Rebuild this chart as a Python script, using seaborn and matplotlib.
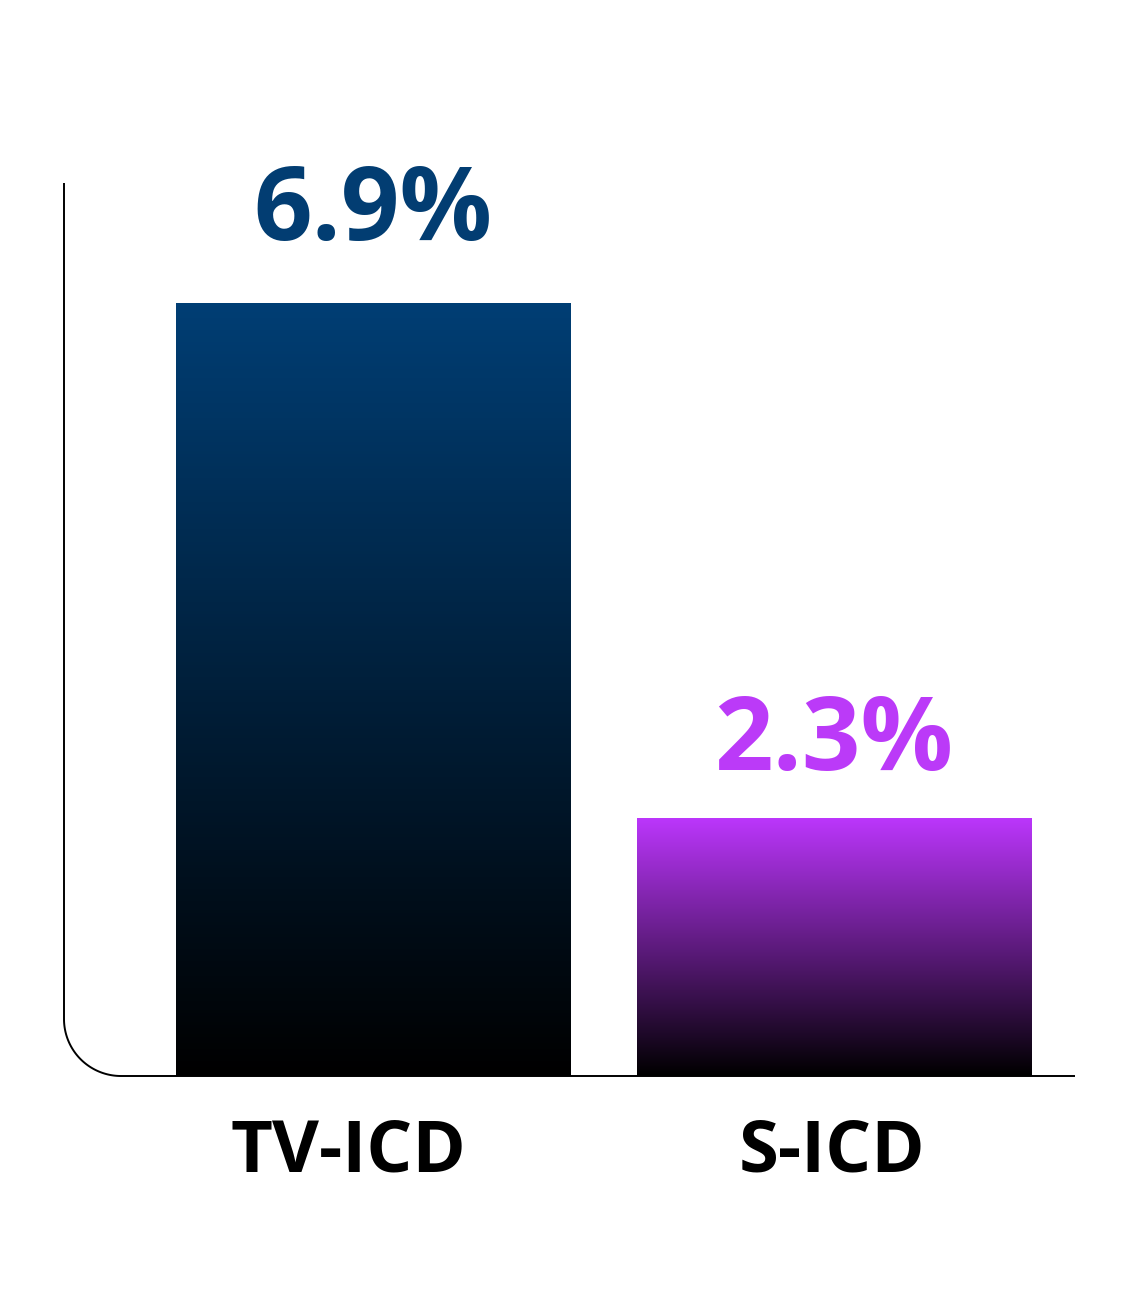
import numpy as np
import matplotlib
matplotlib.use("Agg")
import matplotlib.pyplot as plt
import seaborn as sns
from matplotlib.colors import LinearSegmentedColormap
from matplotlib.transforms import offset_copy

# --------------- data -----------------
categories = ["TV-ICD", "S-ICD"]
values = [6.9, 2.3]
value_labels = ["6.9%", "2.3%"]
top_colors = ["#003e74", "#bb36fb"]
text_colors = ["#023d72", "#bb3af8"]

sns.set_theme(style="white")
plt.rcParams["font.family"] = ["Open Sans", "DejaVu Sans"]

fig = plt.figure(figsize=(11.4, 13.01), dpi=100)
W, H = 1140, 1301
# axes box in pixels: x 64..1075, y(top) 180..1076
AX_TOP, AX_BOT = 180, 1076
ax = fig.add_axes([64 / W, 1 - AX_BOT / H, (1075 - 64) / W, (AX_BOT - AX_TOP) / H])

sns.barplot(x=categories, y=values, width=0.855, color="#003e74",
            edgecolor="none", linewidth=0, ax=ax)

# gradient fill: top colour -> black
for patch, c in zip(ax.patches, top_colors):
    x0, y0 = patch.get_x(), patch.get_y()
    w, h = patch.get_width(), patch.get_height()
    cmap = LinearSegmentedColormap.from_list("g", ["#000000", c])
    grad = np.linspace(0, 1, 256).reshape(-1, 1)
    im = ax.imshow(grad, cmap=cmap, origin="lower", aspect="auto",
                   extent=[x0, x0 + w, y0, y0 + h], zorder=2)
    im.set_clip_path(patch)
    patch.set_facecolor("none")
ax.set_xlim(-0.6703, 1.5228)
ax.set_ylim(0, 8)

# value labels above bars (offsets in px)
label_gap = [63, 48]
for i, (v, lab) in enumerate(zip(values, value_labels)):
    tr = offset_copy(ax.transData, fig=fig, x=0, y=label_gap[i], units="dots")
    ax.text(i, v, lab, transform=tr, ha="center", va="baseline",
            fontsize=74, fontweight="bold", color=text_colors[i])

# category labels below axis
ax.set_xticks([])
ax.set_yticks([])
cat_shift = [-25, -2]
for i, cat in enumerate(categories):
    tr = offset_copy(ax.transData, fig=fig, x=cat_shift[i], y=-96, units="dots")
    ax.text(i, 0, cat, transform=tr, ha="center", va="baseline",
            fontsize=52, fontweight="bold", color="black")

for s in ax.spines.values():
    s.set_visible(False)

# axis line with rounded corner (drawn in axes fraction)
aw, ah = 1075 - 64, AX_BOT - AX_TOP
r = 57
rx, ry = r / aw, r / ah
top = (AX_BOT - 183) / ah
t = np.linspace(np.pi, 1.5 * np.pi, 60)
xs = np.concatenate([[0, 0], rx + rx * np.cos(t), [1]])
ys = np.concatenate([[top, ry], ry + ry * np.sin(t), [0]])
ax.plot(xs, ys, transform=ax.transAxes, color="black", lw=1.4,
        clip_on=False, solid_capstyle="butt", zorder=5)

ax.set_xlabel("")
ax.set_ylabel("")
fig.savefig("out.png", dpi=100)
